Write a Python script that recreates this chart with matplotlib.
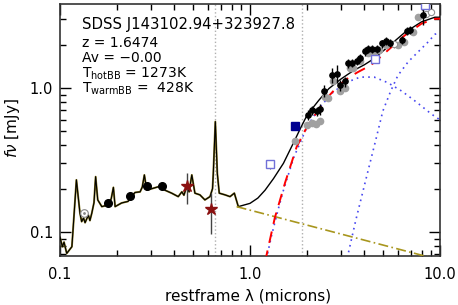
import numpy as np
import matplotlib.pyplot as plt
from matplotlib.ticker import NullFormatter, FixedLocator, FixedFormatter

plt.rcParams['font.family'] = ['DejaVu Sans']

# observed spectrum (restframe microns, mJy)
spec_wave = [0.100, 0.1029, 0.105, 0.1085, 0.1155, 0.1185, 0.122, 0.125, 0.1274, 0.130,
             0.133, 0.1355, 0.141, 0.1437, 0.147, 0.151, 0.154, 0.158, 0.166, 0.1726,
             0.179, 0.186, 0.191, 0.195, 0.211, 0.228, 0.248, 0.264, 0.271, 0.278,
             0.286, 0.305, 0.329, 0.357, 0.387, 0.419, 0.438, 0.449, 0.464, 0.478,
             0.494, 0.513, 0.545, 0.579, 0.616, 0.635, 0.641, 0.657, 0.673, 0.689,
             0.739, 0.785, 0.827, 0.868]
spec_flux = [0.092, 0.079, 0.085, 0.071, 0.079, 0.130, 0.230, 0.170, 0.135, 0.118,
             0.125, 0.116, 0.131, 0.120, 0.135, 0.160, 0.242, 0.167, 0.150, 0.152,
             0.155, 0.170, 0.204, 0.150, 0.159, 0.163, 0.188, 0.190, 0.205, 0.249,
             0.196, 0.200, 0.206, 0.195, 0.186, 0.176, 0.190, 0.180, 0.206, 0.190,
             0.249, 0.186, 0.181, 0.167, 0.176, 0.200, 0.255, 0.584, 0.255, 0.186,
             0.181, 0.176, 0.186, 0.150]

# total model beyond the spectrum
model_wave = [0.868, 1.0, 1.1, 1.2, 1.33, 1.5, 1.7, 1.85, 2.0, 2.3, 2.6, 3.0, 3.5, 4.0,
              4.5, 5.3, 6.5, 8.0, 9.4, 10.0]
model_flux = [0.150, 0.158, 0.172, 0.195, 0.235, 0.30, 0.42, 0.53, 0.65, 0.82, 0.99,
              1.15, 1.32, 1.45, 1.60, 1.92, 2.42, 2.88, 3.10, 3.10]

# hot + warm blackbody sum
bbsum_wave = [1.2, 1.35, 1.53, 1.76, 2.0, 2.3, 2.6, 2.9, 3.3, 3.7, 4.2, 4.5, 5.3, 6.5,
              8.0, 9.4, 10.0]
bbsum_flux = [0.062, 0.125, 0.22, 0.39, 0.54, 0.71, 0.88, 1.03, 1.18, 1.29, 1.41, 1.50,
              1.82, 2.31, 2.80, 3.02, 3.03]

# hot blackbody
hot_wave = [1.2, 1.3, 1.4, 1.5, 1.7, 2.0, 2.3, 2.7, 3.2, 3.8, 4.5, 5.3, 6.3, 7.5, 9.0, 10.0]
hot_flux = [0.059, 0.095, 0.14, 0.195, 0.33, 0.54, 0.72, 0.92, 1.09, 1.19, 1.19, 1.09,
            0.95, 0.80, 0.66, 0.60]

# warm blackbody
warm_wave = [3.25, 3.6, 4.1, 4.6, 5.0, 5.5, 6.0, 6.8, 7.7, 8.7, 9.4, 10.0]
warm_flux = [0.066, 0.12, 0.24, 0.44, 0.69, 0.95, 1.22, 1.52, 1.79, 2.10, 2.36, 2.42]

# power law
pl_wave = [0.85, 8.0, 10.0]
pl_flux = [0.150, 0.069, 0.064]

# photometry
opt_wave = [0.178, 0.234, 0.286, 0.343]
opt_flux = [0.158, 0.178, 0.210, 0.209]
uv_wave = [0.133]
uv_flux = [0.136]
star_wave = [0.468, 0.621]
star_flux = [0.209, 0.144]
star_lo = [0.156, 0.097]
star_hi = [0.258, 0.186]
nir_wave = [1.725]
nir_flux = [0.545]
box_wave = [1.274, 4.54, 8.3]
box_flux = [0.295, 1.58, 3.75]

# IR spectrum, two extractions
ir_wave = [2.01, 2.11, 2.24, 2.34, 2.46, 2.69, 2.86, 2.97, 3.16, 3.29, 3.45, 3.64, 3.80,
           4.03, 4.19, 4.39, 4.64, 4.93, 5.18, 5.47, 6.32, 6.69, 6.95, 8.17]
ir_flux = [0.65, 0.70, 0.69, 0.71, 0.96, 1.23, 1.26, 1.05, 1.11, 1.48, 1.50, 1.54, 1.62,
           1.80, 1.86, 1.86, 1.86, 2.04, 2.13, 2.06, 2.15, 2.50, 2.53, 3.20]
ir_err = [0.05, 0.05, 0.05, 0.06, 0.09, 0.15, 0.18, 0.09, 0.09, 0.10, 0.10, 0.10, 0.11,
          0.12, 0.12, 0.12, 0.12, 0.13, 0.14, 0.14, 0.14, 0.16, 0.16, 0.45]
ir2_wave = [1.72, 2.00, 2.11, 2.22, 2.34, 2.48, 2.58, 2.74, 2.97, 3.16, 3.35, 3.50, 3.80,
            4.20, 4.50, 4.80, 5.20, 6.03, 6.50, 7.20, 7.70]
ir2_flux = [0.43, 0.55, 0.575, 0.565, 0.59, 0.87, 0.85, 1.12, 0.96, 1.00, 1.38, 1.38, 1.55,
            1.75, 1.78, 1.85, 1.98, 1.98, 2.10, 2.45, 3.10]
open_wave = [5.74, 8.48, 9.0]
open_flux = [2.02, 3.27, 3.39]

fig = plt.figure(figsize=(4.58, 3.05), dpi=100)
ax = fig.add_axes([60/458, 49/305, 380/458, 252/305])
ax.set_xscale('log')
ax.set_yscale('log')
ax.set_xlim(0.1, 10.0)
ax.set_ylim(0.0681, 3.83)

ax.axvline(0.6563, color='#b0b0b0', ls=':', lw=1, zorder=1)
ax.axvline(1.875, color='#b0b0b0', ls=':', lw=1, zorder=1)

ax.plot(spec_wave, spec_flux, color='#8a7a20', lw=1.4, zorder=2)
ax.plot(spec_wave, spec_flux, color='black', lw=0.8, zorder=3)
ax.plot(model_wave, model_flux, color='black', lw=1.0, zorder=3)
ax.plot(pl_wave, pl_flux, color='#a8961e', lw=1.2, ls=(0, (6, 2, 1, 2)), zorder=3)
ax.plot(hot_wave, hot_flux, color='#4848f0', lw=1.2, ls=(0, (1, 2.5)), zorder=3)
ax.plot(warm_wave, warm_flux, color='#4848f0', lw=1.2, ls=(0, (1, 2.5)), zorder=3)
ax.plot(bbsum_wave, bbsum_flux, color='red', lw=1.4, ls=(0, (6, 4)), zorder=4)

ax.plot(opt_wave, opt_flux, 'o', color='black', ms=5.5, zorder=5)
ax.plot(uv_wave, uv_flux, 'o', mfc='white', mec='#888888', mew=0.8, ms=5.5, zorder=5)
ax.plot(uv_wave, uv_flux, '.', color='#888888', ms=2, zorder=6)
star_err = [np.array(star_flux) - np.array(star_lo), np.array(star_hi) - np.array(star_flux)]
ax.errorbar(star_wave, star_flux, yerr=star_err, fmt='none', ecolor='#444444', elinewidth=1, zorder=5)
ax.plot(star_wave, star_flux, '*', color='#8b1010', ms=9, zorder=6)

ax.plot(ir2_wave, ir2_flux, 'o', color='#a0a0a0', ms=4.5, zorder=5)
ax.errorbar(open_wave, open_flux, yerr=[0.12, 0.15, 0.15], fmt='o', mfc='white', mec='#909090',
            ecolor='#909090', ms=4.5, mew=0.8, elinewidth=0.8, zorder=5)
ax.errorbar(ir_wave, ir_flux, yerr=ir_err, fmt='o', color='black', ms=3.8, elinewidth=1, zorder=6)

ax.plot(nir_wave, nir_flux, 's', color='#000090', ms=6, zorder=7)
ax.errorbar(box_wave, box_flux, yerr=[0.02, 0.08, 0.15], fmt='s', mfc='white', mec='#7070d8',
            ecolor='#555555', ms=5.5, mew=1, elinewidth=0.8, capsize=0, zorder=7)

ax.xaxis.set_major_locator(FixedLocator([0.1, 1.0, 10.0]))
ax.xaxis.set_major_formatter(FixedFormatter(['0.1', '1.0', '10.0']))
ax.xaxis.set_minor_formatter(NullFormatter())
ax.yaxis.set_major_locator(FixedLocator([0.1, 1.0]))
ax.yaxis.set_major_formatter(FixedFormatter(['0.1', '1.0']))
ax.yaxis.set_minor_formatter(NullFormatter())
ax.tick_params(which='both', direction='in', top=True, right=True, labelsize=10.5, width=1)
ax.tick_params(which='major', length=8)
ax.tick_params(which='minor', length=4)
ax.tick_params(axis='x', pad=8)
ax.tick_params(axis='y', pad=5)
for s in ax.spines.values():
    s.set_linewidth(1.2)
    s.set_color('#333333')

fig.text(248/458, 1 - 296/305, 'restframe \u03bb (microns)', ha='center', va='center', fontsize=11)
fig.text(13/458, 1 - 128/305, r'$f\nu$ [mJy]', ha='center', va='center', rotation=90, fontsize=11)

fig.text(82/458, 1 - 25/305, 'SDSS J143102.94+323927.8', ha='left', va='center', fontsize=10.7)
fig.text(82/458, 1 - 43/305, 'z = 1.6474', ha='left', va='center', fontsize=10)
fig.text(82/458, 1 - 58/305, 'Av = \u22120.00', ha='left', va='center', fontsize=10)
fig.text(82/458, 1 - 74/305, r'T$_{\rm hotBB}$ = 1273K', ha='left', va='center', fontsize=10)
fig.text(82/458, 1 - 89/305, r'T$_{\rm warmBB}$ =  428K', ha='left', va='center', fontsize=10)

fig.savefig('out.png', dpi=100)
